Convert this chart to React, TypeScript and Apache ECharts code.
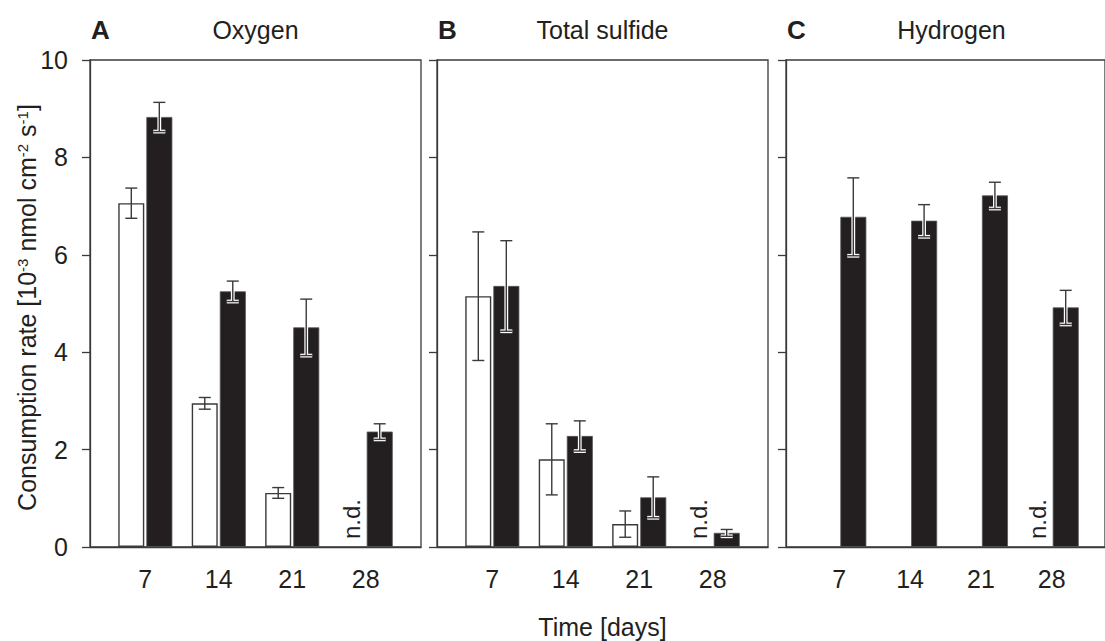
import React, { useEffect, useRef } from "react";
import * as echarts from "echarts";

// ---------- data ----------
const days = [7, 14, 21, 28];
const panelLetters = ["A", "B", "C"];
const panelTitles = ["Oxygen", "Total sulfide", "Hydrogen"];
const yTicks = [0, 2, 4, 6, 8, 10];

const oxygenOpen = [7.06, 2.95, 1.11, null];
const oxygenOpenErr = [0.31, 0.12, 0.11, null];
const oxygenFilled = [8.83, 5.25, 4.51, 2.37];
const oxygenFilledErr = [0.3, 0.21, 0.58, 0.16];

const sulfideOpen = [5.15, 1.8, 0.47, null];
const sulfideOpenErr = [1.32, 0.73, 0.27, null];
const sulfideFilled = [5.36, 2.28, 1.02, 0.29];
const sulfideFilledErr = [0.93, 0.31, 0.42, 0.07];

const hydrogenOpen = [null, null, null, null];
const hydrogenOpenErr = [null, null, null, null];
const hydrogenFilled = [6.78, 6.7, 7.22, 4.92];
const hydrogenFilledErr = [0.8, 0.33, 0.27, 0.35];

const notDetectedDays = [[28], [28], [28]];

const xLabel = "Time [days]";
const yLabel = "Consumption rate [10{sup|-3} nmol cm{sup|-2} s{sup|-1}]";

// ---------- style / layout ----------
const FONT = "'Liberation Sans', Arial, Helvetica, sans-serif";
const FS = 25;
const TEXT = "#231f20";
const LINE = "#3a3a3a";
const FILL = "#231f20";
const PANEL_LEFT = [90, 437, 786];
const PANEL_W = 331;
const PANEL_TOP = 60;
const PANEL_H = 487;
const BAR_W = 26;
const OFFSET = 14;

const panels = [
  { open: oxygenOpen, openErr: oxygenOpenErr, filled: oxygenFilled, filledErr: oxygenFilledErr },
  { open: sulfideOpen, openErr: sulfideOpenErr, filled: sulfideFilled, filledErr: sulfideFilledErr },
  { open: hydrogenOpen, openErr: hydrogenOpenErr, filled: hydrogenFilled, filledErr: hydrogenFilledErr },
];

function errData(vals: (number | null)[], errs: (number | null)[]) {
  const out: number[][] = [];
  days.forEach((d, k) => {
    if (vals[k] != null && errs[k] != null) out.push([d, vals[k] as number, errs[k] as number]);
  });
  return out;
}

function makeErrRender(offset: number, halo: boolean) {
  return (params: any, api: any) => {
    const x = api.value(0);
    const y = api.value(1);
    const e = api.value(2);
    const hi = api.coord([x, y + e]);
    const lo = api.coord([x, y - e]);
    const cx = hi[0] + offset;
    const cap = 6;
    const segs = [
      [cx, hi[1], cx, lo[1]],
      [cx - cap, hi[1], cx + cap, hi[1]],
      [cx - cap, lo[1], cx + cap, lo[1]],
    ];
    const children: any[] = [];
    if (halo) {
      segs.forEach((s) =>
        children.push({
          type: "line",
          shape: { x1: s[0], y1: s[1], x2: s[2], y2: s[3] },
          style: { stroke: "#ffffff", lineWidth: 3.8 },
        })
      );
    }
    segs.forEach((s) =>
      children.push({
        type: "line",
        shape: { x1: s[0], y1: s[1], x2: s[2], y2: s[3] },
        style: { stroke: LINE, lineWidth: 1.4 },
      })
    );
    return { type: "group", children };
  };
}

export default function App() {
  const ref = useRef<HTMLDivElement>(null);

  useEffect(() => {
    if (!ref.current) return;
    const chart = echarts.init(ref.current, null, { renderer: "svg" });

    const grid = panels.map((_, i) => ({
      left: PANEL_LEFT[i],
      top: PANEL_TOP,
      width: PANEL_W,
      height: PANEL_H,
      show: true,
      borderColor: LINE,
      borderWidth: 1.3,
      backgroundColor: "transparent",
    }));

    const xAxis = panels.map((_, i) => ({
      gridIndex: i,
      type: "value",
      min: 1.73,
      max: 33.27,
      axisLine: { show: true, lineStyle: { color: LINE, width: 1.3 } },
      axisTick: { show: false },
      splitLine: { show: false },
      axisLabel: {
        customValues: days,
        color: TEXT,
        fontSize: FS,
        fontFamily: FONT,
        margin: 19,
      },
    }));

    const yAxis = panels.map((_, i) => ({
      gridIndex: i,
      type: "value",
      min: yTicks[0],
      max: yTicks[yTicks.length - 1],
      interval: 2,
      axisLine: { show: true, lineStyle: { color: LINE, width: 1.3 } },
      axisTick: { show: true, inside: false, length: 8, lineStyle: { color: LINE, width: 1.3 } },
      splitLine: { show: false },
      axisLabel: {
        show: i === 0,
        color: TEXT,
        fontSize: FS,
        fontFamily: FONT,
        margin: 22,
      },
    }));

    const series: any[] = [];
    panels.forEach((p, i) => {
      series.push({
        type: "bar",
        xAxisIndex: i,
        yAxisIndex: i,
        barWidth: BAR_W,
        barGap: "8%",
        data: days.map((d, k) => [d, p.open[k]]),
        itemStyle: { color: "#ffffff", borderColor: LINE, borderWidth: 1.4 },
        silent: true,
      });
      series.push({
        type: "bar",
        xAxisIndex: i,
        yAxisIndex: i,
        barWidth: BAR_W,
        barGap: "8%",
        data: days.map((d, k) => [d, p.filled[k]]),
        itemStyle: { color: FILL, borderColor: "#555555", borderWidth: 0.8 },
        silent: true,
      });
      series.push({
        type: "custom",
        xAxisIndex: i,
        yAxisIndex: i,
        data: errData(p.open, p.openErr),
        renderItem: makeErrRender(-OFFSET, false),
        silent: true,
        z: 5,
      });
      series.push({
        type: "custom",
        xAxisIndex: i,
        yAxisIndex: i,
        data: errData(p.filled, p.filledErr),
        renderItem: makeErrRender(OFFSET, true),
        silent: true,
        z: 5,
      });
      series.push({
        type: "custom",
        xAxisIndex: i,
        yAxisIndex: i,
        data: notDetectedDays[i].map((d) => [d, 0]),
        renderItem: (params: any, api: any) => {
          const pt = api.coord([api.value(0), api.value(1)]);
          return {
            type: "text",
            x: pt[0] - OFFSET,
            y: pt[1] - 8,
            rotation: Math.PI / 2,
            style: {
              text: "n.d.",
              fill: TEXT,
              fontSize: 24,
              fontFamily: FONT,
              align: "left",
              verticalAlign: "middle",
            },
          };
        },
        silent: true,
        z: 6,
      });
    });

    const graphic: any[] = [];
    panels.forEach((_, i) => {
      graphic.push({
        type: "text",
        x: PANEL_LEFT[i] + 1,
        y: 30,
        style: {
          text: panelLetters[i],
          fill: TEXT,
          font: `bold 26px ${FONT}`,
          align: "left",
          verticalAlign: "middle",
        },
      });
      graphic.push({
        type: "text",
        x: PANEL_LEFT[i] + PANEL_W / 2,
        y: 30,
        style: {
          text: panelTitles[i],
          fill: TEXT,
          font: `${FS}px ${FONT}`,
          align: "center",
          verticalAlign: "middle",
        },
      });
    });
    graphic.push({
      type: "text",
      x: PANEL_LEFT[1] + PANEL_W / 2,
      y: 627,
      style: {
        text: xLabel,
        fill: TEXT,
        font: `${FS}px ${FONT}`,
        align: "center",
        verticalAlign: "middle",
      },
    });
    graphic.push({
      type: "text",
      x: 27,
      y: PANEL_TOP + PANEL_H / 2 + 4,
      rotation: Math.PI / 2,
      style: {
        text: yLabel,
        fill: TEXT,
        fontSize: FS,
        fontFamily: FONT,
        align: "center",
        verticalAlign: "middle",
        rich: {
          sup: {
            fontSize: 15,
            fontFamily: FONT,
            fill: TEXT,
            verticalAlign: "top",
          },
        },
      },
    });

    chart.setOption({
      animation: false,
      backgroundColor: "#ffffff",
      grid,
      xAxis,
      yAxis,
      series,
      graphic,
    });

    return () => chart.dispose();
  }, []);

  return (
    <div
      ref={ref}
      style={{ position: "absolute", left: 0, top: 0, width: 1105, height: 641, background: "#fff" }}
    />
  );
}
